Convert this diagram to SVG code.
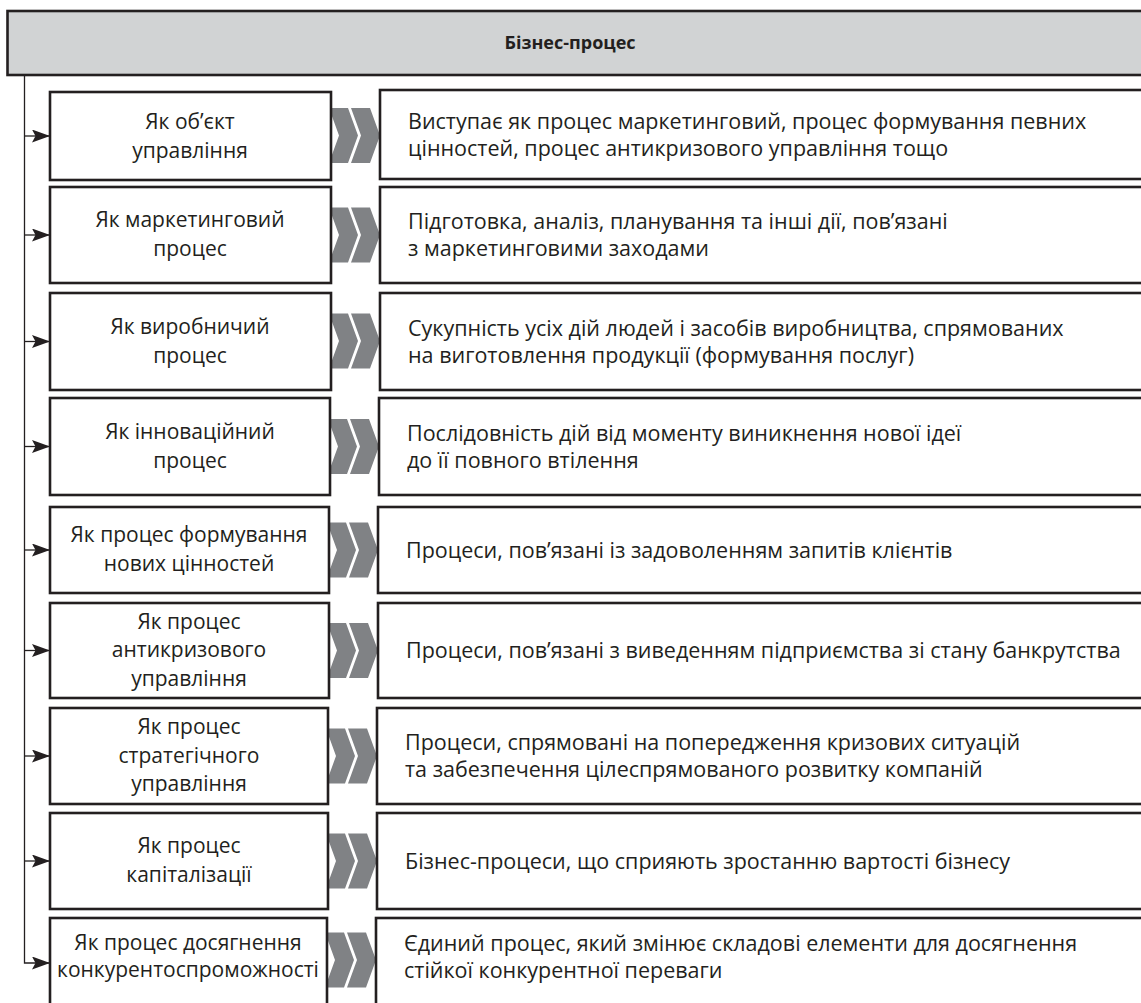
<svg xmlns="http://www.w3.org/2000/svg" width="1141" height="1003" viewBox="0 0 1141 1003">
<defs>
<style>
.box{fill:#fff;stroke:#231f20;stroke-width:2.6}
.hdr{fill:#d1d3d4;stroke:#231f20;stroke-width:2.6}
.t{font-family:"Open Sans","Noto Sans",sans-serif;font-size:21.5px;fill:#231f20}
.l{text-anchor:middle;font-size:21px}
.h{font-weight:bold;text-anchor:middle;font-size:18px}
.con{fill:none;stroke:#231f20;stroke-width:1.3}
.chev{fill:#808285}
</style>
<marker id="ah" viewBox="0 0 18 13" refX="18" refY="6.5" markerWidth="18" markerHeight="13" markerUnits="userSpaceOnUse" orient="auto">
<path d="M0,0 L18,6.5 L0,13 L3.5,6.5 Z" fill="#231f20"/>
</marker>
<g id="chv">
<polygon class="chev" points="329,-27.5 348,-27.5 358,0 348,27.5 329,27.5 339,0"/>
<polygon class="chev" points="351,-27.5 370,-27.5 380,0 370,27.5 351,27.5 361,0"/>
</g>
</defs>

<g id="header">
<rect class="hdr" x="7.5" y="11" width="1145" height="64"/>
<text class="t h" x="570" y="49">Бізнес-процес</text>
</g>

<g id="connectors">
<path class="con" d="M24.5,75 V963 H50" marker-end="url(#ah)"/>
<line class="con" x1="24.5" y1="136" x2="50" y2="136" marker-end="url(#ah)"/>
<line class="con" x1="24.5" y1="235" x2="50" y2="235" marker-end="url(#ah)"/>
<line class="con" x1="24.5" y1="341.5" x2="50" y2="341.5" marker-end="url(#ah)"/>
<line class="con" x1="24.5" y1="446.5" x2="50" y2="446.5" marker-end="url(#ah)"/>
<line class="con" x1="24.5" y1="550" x2="50" y2="550" marker-end="url(#ah)"/>
<line class="con" x1="24.5" y1="650.5" x2="50" y2="650.5" marker-end="url(#ah)"/>
<line class="con" x1="24.5" y1="756" x2="50" y2="756" marker-end="url(#ah)"/>
<line class="con" x1="24.5" y1="861" x2="50" y2="861" marker-end="url(#ah)"/>
<use href="#chv" transform="translate(0,135.5)"/>
<use href="#chv" transform="translate(0,235)"/>
<use href="#chv" transform="translate(0,341)"/>
<use href="#chv" transform="translate(-1,446.5)"/>
<use href="#chv" transform="translate(-2,550)"/>
<use href="#chv" transform="translate(-2,650.5)"/>
<use href="#chv" transform="translate(-3,756)"/>
<use href="#chv" transform="translate(-3,861)"/>
<use href="#chv" transform="translate(-4,960)"/>
</g>

<g id="row1">
<rect class="box" x="50" y="92" width="281" height="88"/>
<text class="t l" x="190" y="129">Як об’єкт</text>
<text class="t l" x="190" y="158">управління</text>
<rect class="box" x="380" y="90" width="770" height="89"/>
<text class="t" x="408" y="129">Виступає як процес маркетинговий, процес формування певних</text>
<text class="t" x="408" y="156">цінностей, процес антикризового управління тощо</text>
</g>

<g id="row2">
<rect class="box" x="50" y="187" width="281" height="96"/>
<text class="t l" x="190" y="227">Як маркетинговий</text>
<text class="t l" x="190" y="256">процес</text>
<rect class="box" x="380" y="187" width="770" height="96"/>
<text class="t" x="408" y="229">Підготовка, аналіз, планування та інші дії, пов’язані</text>
<text class="t" x="408" y="256">з маркетинговими заходами</text>
</g>

<g id="row3">
<rect class="box" x="50" y="293" width="281" height="97"/>
<text class="t l" x="190" y="334">Як виробничий</text>
<text class="t l" x="190" y="363">процес</text>
<rect class="box" x="380" y="293" width="770" height="97"/>
<text class="t" x="408" y="336">Сукупність усіх дій людей і засобів виробництва, спрямованих</text>
<text class="t" x="408" y="363">на виготовлення продукції (формування послуг)</text>
</g>

<g id="row4">
<rect class="box" x="50" y="398" width="280" height="97"/>
<text class="t l" x="190" y="439">Як інноваційний</text>
<text class="t l" x="190" y="468">процес</text>
<rect class="box" x="379" y="398" width="771" height="97"/>
<text class="t" x="407" y="441">Послідовність дій від моменту виникнення нової ідеї</text>
<text class="t" x="407" y="468">до її повного втілення</text>
</g>

<g id="row5">
<rect class="box" x="50" y="507" width="279" height="86"/>
<text class="t l" x="189" y="542">Як процес формування</text>
<text class="t l" x="189" y="571">нових цінностей</text>
<rect class="box" x="378" y="507" width="772" height="86"/>
<text class="t" x="406" y="558">Процеси, пов’язані із задоволенням запитів клієнтів</text>
</g>

<g id="row6">
<rect class="box" x="50" y="603" width="279" height="95"/>
<text class="t l" x="189" y="629">Як процес</text>
<text class="t l" x="189" y="657">антикризового</text>
<text class="t l" x="189" y="686">управління</text>
<rect class="box" x="378" y="603" width="772" height="95"/>
<text class="t" x="406" y="658">Процеси, пов’язані з виведенням підприємства зі стану банкрутства</text>
</g>

<g id="row7">
<rect class="box" x="50" y="708" width="278" height="96"/>
<text class="t l" x="189" y="734">Як процес</text>
<text class="t l" x="189" y="763">стратегічного</text>
<text class="t l" x="189" y="791">управління</text>
<rect class="box" x="377" y="708" width="773" height="96"/>
<text class="t" x="405" y="750">Процеси, спрямовані на попередження кризових ситуацій</text>
<text class="t" x="405" y="777">та забезпечення цілеспрямованого розвитку компаній</text>
</g>

<g id="row8">
<rect class="box" x="50" y="813" width="278" height="96"/>
<text class="t l" x="189" y="853">Як процес</text>
<text class="t l" x="189" y="882">капіталізації</text>
<rect class="box" x="377" y="813" width="773" height="96"/>
<text class="t" x="405" y="869">Бізнес-процеси, що сприяють зростанню вартості бізнесу</text>
</g>

<g id="row9">
<rect class="box" x="50" y="918" width="277" height="100"/>
<text class="t l" x="188" y="950">Як процес досягнення</text>
<text class="t l" x="188" y="977">конкурентоспроможності</text>
<rect class="box" x="376" y="918" width="774" height="100"/>
<text class="t" x="404" y="951">Єдиний процес, який змінює складові елементи для досягнення</text>
<text class="t" x="404" y="978">стійкої конкурентної переваги</text>
</g>
</svg>
